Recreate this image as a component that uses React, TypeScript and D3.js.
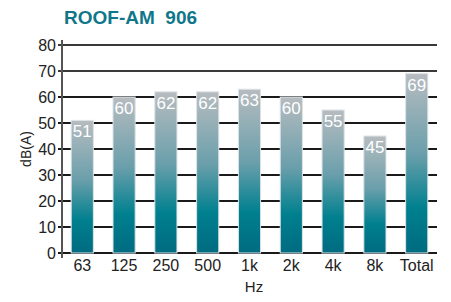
import React, { useEffect, useRef } from "react";
import * as d3 from "d3";

// chart data
const bands = ["63", "125", "250", "500", "1k", "2k", "4k", "8k", "Total"];
const levels = [51, 60, 62, 62, 63, 60, 55, 45, 69];
const yTicks = [0, 10, 20, 30, 40, 50, 60, 70, 80];

const App = () => {
  const svgRef = useRef<SVGSVGElement>(null);

  useEffect(() => {
    const width = 451;
    const height = 302;
    const margin = { top: 45, right: 14, bottom: 49, left: 62 };
    const font = "Liberation Sans, Arial, sans-serif";

    const svg = d3.select(svgRef.current);
    svg.selectAll("*").remove();
    svg.attr("width", width).attr("height", height);

    // gradient for the bars
    const defs = svg.append("defs");
    const grad = defs
      .append("linearGradient")
      .attr("id", "barGrad")
      .attr("x1", 0)
      .attr("y1", 0)
      .attr("x2", 0)
      .attr("y2", 1);
    grad.append("stop").attr("offset", "0%").attr("stop-color", "#b7bcc0");
    grad.append("stop").attr("offset", "45%").attr("stop-color", "#6a9fab");
    grad.append("stop").attr("offset", "75%").attr("stop-color", "#00808f");
    grad.append("stop").attr("offset", "100%").attr("stop-color", "#006b80");

    const x = d3
      .scaleBand()
      .domain(bands)
      .range([margin.left, width - margin.right])
      .paddingInner(0.47)
      .paddingOuter(0.22);

    const y = d3
      .scaleLinear()
      .domain([0, 80])
      .range([height - margin.bottom, margin.top]);

    // title
    svg
      .append("text")
      .attr("x", 64)
      .attr("y", 24)
      .style("font-family", font)
      .style("font-size", "19px")
      .style("font-weight", "bold")
      .style("fill", "#0f7789")
      .style("white-space", "pre")
      .text("ROOF-AM  906");

    // grid lines
    svg
      .append("g")
      .selectAll("line")
      .data(yTicks)
      .enter()
      .append("line")
      .attr("x1", margin.left - 4)
      .attr("x2", width - margin.right)
      .attr("y1", (d) => y(d))
      .attr("y2", (d) => y(d))
      .style("stroke", (d) => (d >= 70 ? "#3a3a3a" : "#1a1a1a"))
      .style("stroke-width", 2);

    // y axis line
    svg
      .append("line")
      .attr("x1", margin.left)
      .attr("x2", margin.left)
      .attr("y1", y(80) - 5)
      .attr("y2", y(0) + 5)
      .style("stroke", "#555")
      .style("stroke-width", 2);

    // y tick labels
    svg
      .append("g")
      .selectAll("text")
      .data(yTicks)
      .enter()
      .append("text")
      .attr("x", margin.left - 6)
      .attr("y", (d) => y(d))
      .attr("dy", "0.36em")
      .attr("text-anchor", "end")
      .style("font-family", font)
      .style("font-size", "16px")
      .style("fill", "#222")
      .text((d) => d);

    // y axis title
    svg
      .append("text")
      .attr("transform", `translate(31, ${(y(0) + y(80)) / 2}) rotate(-90)`)
      .attr("text-anchor", "middle")
      .style("font-family", font)
      .style("font-size", "14px")
      .style("fill", "#222")
      .text("dB(A)");

    // bars
    svg
      .append("g")
      .selectAll("rect")
      .data(levels)
      .enter()
      .append("rect")
      .attr("x", (d, i) => x(bands[i])!)
      .attr("width", x.bandwidth())
      .attr("y", (d) => y(d))
      .attr("height", (d) => y(0) - y(d))
      .style("fill", "url(#barGrad)")
      .style("stroke", "#dde3e6")
      .style("stroke-width", 1);

    // value labels
    svg
      .append("g")
      .selectAll("text")
      .data(levels)
      .enter()
      .append("text")
      .attr("x", (d, i) => x(bands[i])! + x.bandwidth() / 2)
      .attr("y", (d) => y(d) + 17)
      .attr("text-anchor", "middle")
      .style("font-family", font)
      .style("font-size", "17px")
      .style("fill", "#fff")
      .text((d) => d);

    // x tick labels
    svg
      .append("g")
      .selectAll("text")
      .data(bands)
      .enter()
      .append("text")
      .attr("x", (d) => x(d)! + x.bandwidth() / 2)
      .attr("y", y(0) + 18)
      .attr("text-anchor", "middle")
      .style("font-family", font)
      .style("font-size", "16px")
      .style("fill", "#222")
      .text((d) => d);

    // x axis title
    svg
      .append("text")
      .attr("x", 254)
      .attr("y", 292)
      .attr("text-anchor", "middle")
      .style("font-family", font)
      .style("font-size", "15px")
      .style("fill", "#222")
      .text("Hz");
  }, []);

  return (
    <div style={{ position: "absolute", left: 0, top: 0 }}>
      <svg ref={svgRef}></svg>
    </div>
  );
};

export default App;
